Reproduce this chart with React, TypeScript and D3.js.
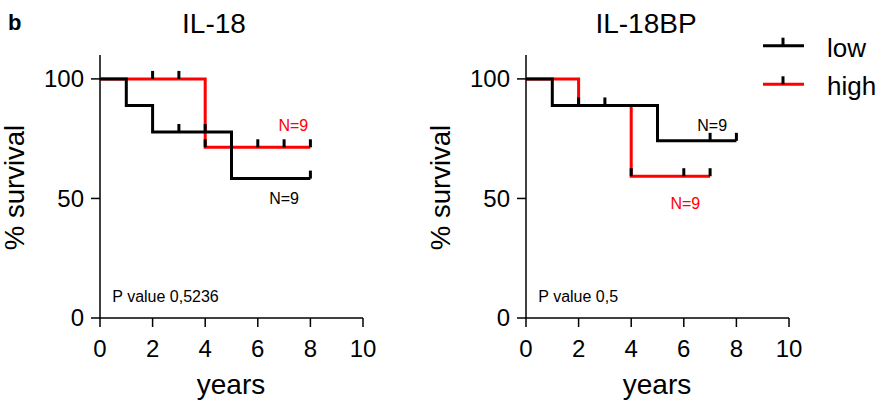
import React from "react";
import * as d3 from "d3";

// ---- Data ----
const panelTitles = ["IL-18", "IL-18BP"];
const pValues = ["P value 0,5236", "P value 0,5"];
const seriesNames = ["low", "high"];
const seriesColors = ["#000000", "#ff0000"];
const xTicks = [0, 2, 4, 6, 8, 10];
const yTicks = [0, 50, 100];

// IL-18 panel: step points [year, % survival]
const il18Low: [number, number][] = [[0, 100], [1, 88.9], [2, 77.8], [5, 58.3], [8, 58.3]];
const il18LowCensor: [number, number][] = [[3, 77.8], [4, 77.8], [8, 58.3]];
const il18High: [number, number][] = [[0, 100], [4, 71.4], [8, 71.4]];
const il18HighCensor: [number, number][] = [[2, 100], [3, 100], [4, 71.4], [6, 71.4], [7, 71.4], [8, 71.4]];

// IL-18BP panel
const bpLow: [number, number][] = [[0, 100], [1, 88.9], [5, 74.1], [8, 74.1]];
const bpLowCensor: [number, number][] = [[3, 88.9], [7, 74.1], [8, 74.1]];
const bpHigh: [number, number][] = [[0, 100], [2, 88.9], [4, 59.3], [7, 59.3]];
const bpHighCensor: [number, number][] = [[2, 88.9], [4, 59.3], [6, 59.3], [7, 59.3]];

// N labels [year, value] for [low, high]
const il18NLabels: [number, number][] = [[7.0, 47.7], [7.35, 78.2]];
const bpNLabels: [number, number][] = [[7.08, 78.2], [6.06, 45.6]];
const nText = "N=9";

const panels = [
  { low: il18Low, lowC: il18LowCensor, high: il18High, highC: il18HighCensor, n: il18NLabels },
  { low: bpLow, lowC: bpLowCensor, high: bpHigh, highC: bpHighCensor, n: bpNLabels },
];

const FONT = "'Liberation Sans', Arial, sans-serif";
const W = 886;
const H = 417;

function Panel({ idx, x0 }: { idx: number; x0: number }) {
  const p = panels[idx];
  const x = d3.scaleLinear().domain([0, 10]).range([x0, x0 + 263]);
  const y = d3.scaleLinear().domain([0, 110]).range([318, 55]);
  const line = d3
    .line<[number, number]>()
    .x((d) => x(d[0]))
    .y((d) => y(d[1]))
    .curve(d3.curveStepAfter);
  const censor = (pts: [number, number][], key: string) =>
    pts.map((d, i) => (
      <rect key={key + i} x={x(d[0]) - 1.5} y={y(d[1]) - 8} width={3} height={8} fill="#000" />
    ));
  const titleX = idx === 0 ? x0 + 114 : x0 + 120;
  const ylabX = x0 - 86;
  return (
    <g>
      <text x={titleX} y={32.5} fontSize={28} textAnchor="middle" fontFamily={FONT}>
        {panelTitles[idx]}
      </text>
      {/* axes */}
      <line x1={x(0)} x2={x(0)} y1={y(110)} y2={y(0)} stroke="#000" strokeWidth={1.5} />
      <line x1={x(0)} x2={x(10)} y1={y(0)} y2={y(0)} stroke="#000" strokeWidth={1.5} />
      {yTicks.map((t) => (
        <g key={"y" + t}>
          <line x1={x(0) - 9} x2={x(0)} y1={y(t)} y2={y(t)} stroke="#000" strokeWidth={1.5} />
          <text x={x(0) - 16} y={y(t)} dy="0.35em" fontSize={24} textAnchor="end" fontFamily={FONT}>
            {t}
          </text>
        </g>
      ))}
      {xTicks.map((t) => (
        <g key={"x" + t}>
          <line x1={x(t)} x2={x(t)} y1={y(0)} y2={y(0) + 9} stroke="#000" strokeWidth={1.5} />
          <text x={x(t)} y={357} fontSize={24} textAnchor="middle" fontFamily={FONT}>
            {t}
          </text>
        </g>
      ))}
      <text x={x(5) - 0.5} y={394} fontSize={28} textAnchor="middle" fontFamily={FONT}>
        years
      </text>
      <text
        transform={`translate(${ylabX},187.5) rotate(-90)`}
        dy="0.35em"
        fontSize={27.5}
        textAnchor="middle"
        fontFamily={FONT}
      >
        % survival
      </text>
      <text x={x(0) + 12.3} y={302} fontSize={16} fontFamily={FONT}>
        {pValues[idx]}
      </text>
      {/* curves */}
      <path d={line(p.high) || ""} fill="none" stroke={seriesColors[1]} strokeWidth={3} />
      <path d={line(p.low) || ""} fill="none" stroke={seriesColors[0]} strokeWidth={3} />
      {censor(p.highC, "h")}
      {censor(p.lowC, "l")}
      {p.n.map((d, i) => (
        <text
          key={"n" + i}
          x={x(d[0])}
          y={y(d[1])}
          fontSize={16}
          textAnchor="middle"
          fill={seriesColors[i]}
          fontFamily={FONT}
        >
          {nText}
        </text>
      ))}
    </g>
  );
}

export default function App() {
  const legendY = [45.7, 84.3];
  return (
    <svg
      width={W}
      height={H}
      style={{ position: "absolute", left: 0, top: 0, background: "#fff" }}
    >
      <rect width={W} height={H} fill="#fff" />
      <text x={8} y={30} fontSize={22} fontWeight="bold" fontFamily={FONT}>
        b
      </text>
      <Panel idx={0} x0={100} />
      <Panel idx={1} x0={526} />
      {seriesNames.map((s, i) => (
        <g key={s}>
          <line x1={763} x2={804} y1={legendY[i]} y2={legendY[i]} stroke={seriesColors[i]} strokeWidth={3} />
          <rect x={781.5} y={legendY[i] - 8} width={3} height={8} fill="#000" />
          <text x={827} y={legendY[i] + 11} fontSize={26} fontFamily={FONT}>
            {s}
          </text>
        </g>
      ))}
    </svg>
  );
}
